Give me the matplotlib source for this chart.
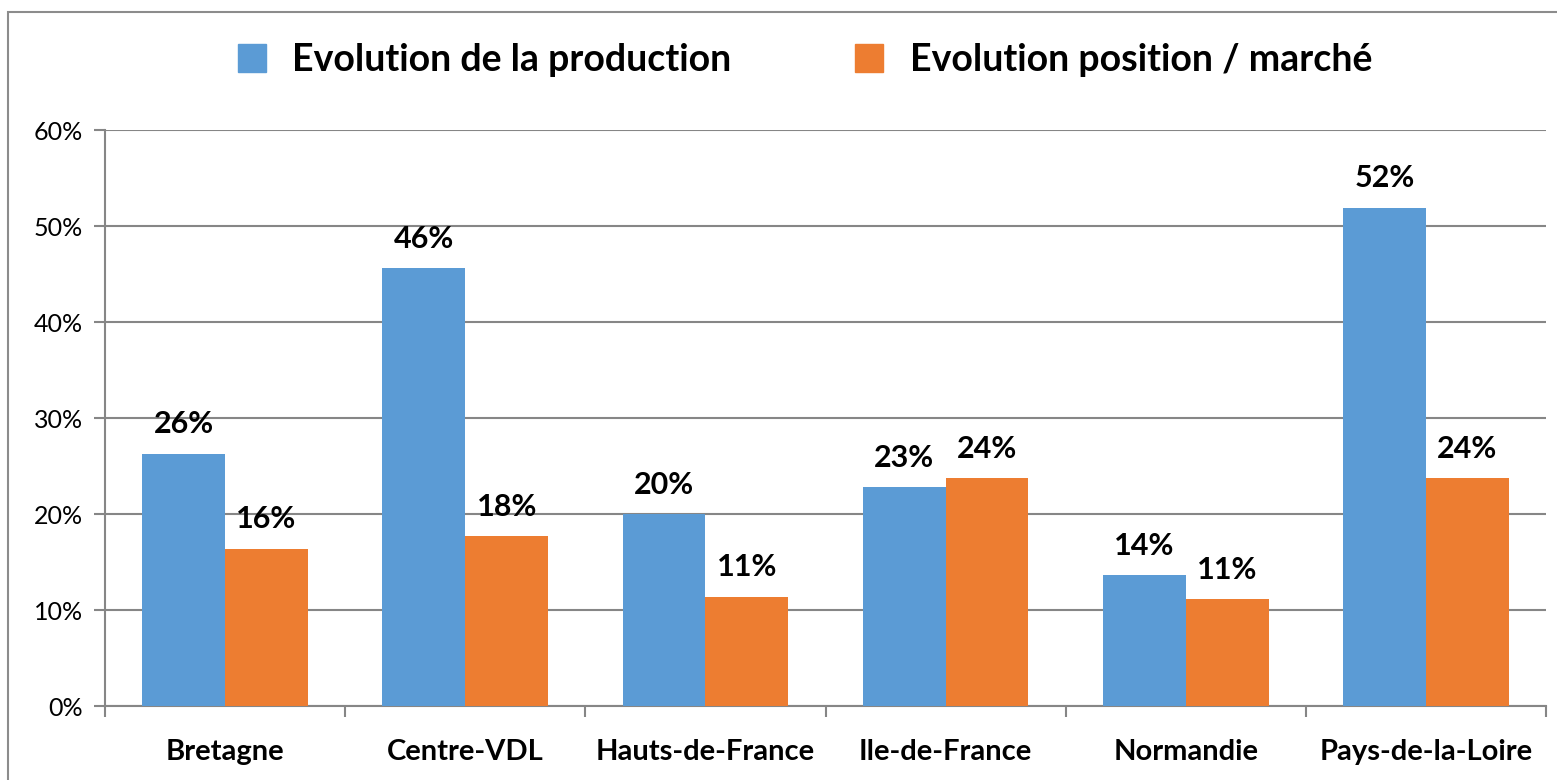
import matplotlib.pyplot as plt
import numpy as np
from matplotlib.patches import Rectangle, Patch

regions = ["Bretagne", "Centre-VDL", "Hauts-de-France", "Ile-de-France", "Normandie", "Pays-de-la-Loire"]
production = [26.3, 45.6, 20.0, 22.8, 13.6, 51.9]
position_marche = [16.4, 17.7, 11.4, 23.7, 11.1, 23.7]
series_names = ["Evolution de la production", "Evolution position / marché"]

blue = "#5B9BD5"
orange = "#ED7D31"
grid_col = "#868686"

plt.rcParams['font.family'] = ['Lato', 'DejaVu Sans']

fig = plt.figure(figsize=(15.57, 7.80), dpi=100)
ax = fig.add_axes([105 / 1557, 74 / 780, (1546 - 105) / 1557, (706 - 130) / 780])

# outer chart border
fig.patches.append(Rectangle((8 / 1557, -0.01), 1.1, (780 - 12) / 780 + 0.01,
                             transform=fig.transFigure, fill=False,
                             edgecolor="#8c8c8c", linewidth=1.5))

x = np.arange(len(regions))
w = 0.345
b1 = ax.bar(x - w / 2, production, w, color=blue, zorder=3)
b2 = ax.bar(x + w / 2, position_marche, w, color=orange, zorder=3)

for bars in (b1, b2):
    for r in bars:
        ax.annotate(f"{r.get_height():.0f}%", (r.get_x() + r.get_width() / 2, r.get_height()),
                    xytext=(0, 11), textcoords="offset points", ha="center", va="bottom",
                    fontsize=22, fontweight="bold", color="black")

ax.set_xlim(-0.5, len(regions) - 0.5)
ax.set_ylim(0, 60)
ax.set_yticks(np.arange(0, 61, 10))
ax.set_yticklabels([f"{v}%" for v in range(0, 61, 10)], fontsize=18)
ax.yaxis.grid(True, color=grid_col, linewidth=1.5, zorder=0)

ax.set_xticks(x)
ax.set_xticklabels(regions, fontsize=21, fontweight="bold")
ax.set_xticks(np.arange(-0.5, len(regions)), minor=True)
ax.tick_params(axis="x", which="major", length=0, pad=24)
ax.tick_params(axis="x", which="minor", length=8, width=1.5, color=grid_col)
ax.tick_params(axis="y", length=8, width=1.5, color=grid_col, pad=8)

for s in ["top", "right"]:
    ax.spines[s].set_visible(False)
for s in ["left", "bottom"]:
    ax.spines[s].set_color(grid_col)
    ax.spines[s].set_linewidth(1.5)

handles = [Patch(color=blue), Patch(color=orange)]
fig.legend(handles, series_names, loc="center", bbox_to_anchor=(805 / 1557, 1 - 60 / 780),
           ncol=2, frameon=False, prop={"size": 27, "weight": "bold"},
           handlelength=0.75, handleheight=0.75, handletextpad=0.7, columnspacing=3.3)

fig.savefig("out.png", dpi=100)
